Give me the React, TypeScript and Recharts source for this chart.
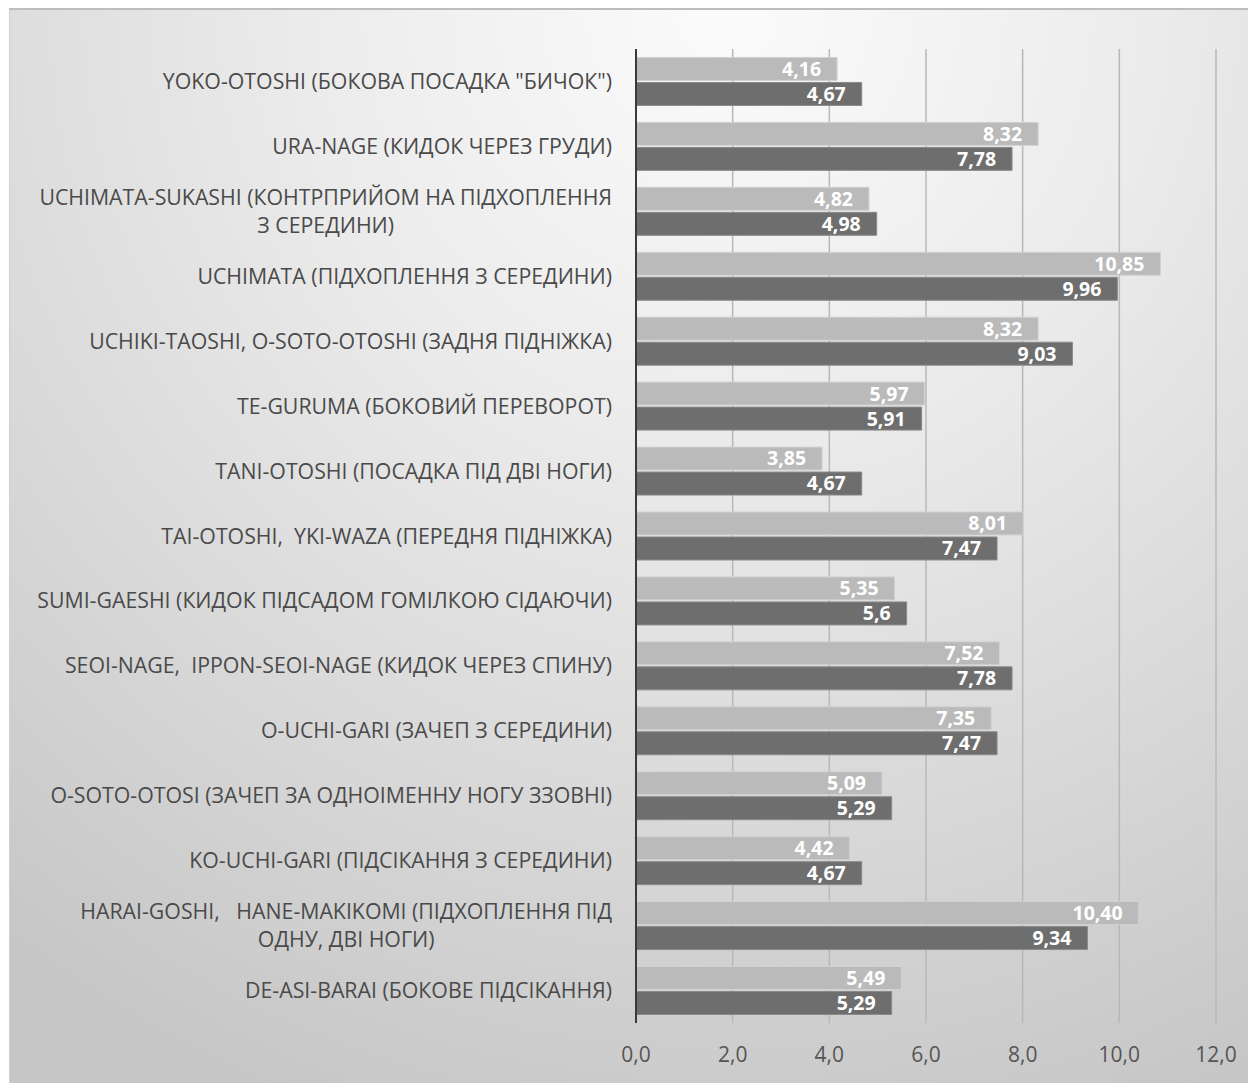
import { BarChart, Bar, XAxis, YAxis, CartesianGrid, LabelList } from "recharts";

const categories = [
  'YOKO-OTOSHI (БОКОВА ПОСАДКА "БИЧОК")',
  "URA-NAGE (КИДОК ЧЕРЕЗ ГРУДИ)",
  "UCHIMATA-SUKASHI (КОНТРПРИЙОМ НА ПІДХОПЛЕННЯ\nЗ СЕРЕДИНИ)",
  "UCHIMATA (ПІДХОПЛЕННЯ З СЕРЕДИНИ)",
  "UCHIKI-TAOSHI, O-SOTO-OTOSHI (ЗАДНЯ ПІДНІЖКА)",
  "TE-GURUMA (БОКОВИЙ ПЕРЕВОРОТ)",
  "TANI-OTOSHI (ПОСАДКА ПІД ДВІ НОГИ)",
  "TAI-OTOSHI,  YKI-WAZA (ПЕРЕДНЯ ПІДНІЖКА)",
  "SUMI-GAESHI (КИДОК ПІДСАДОМ ГОМІЛКОЮ СІДАЮЧИ)",
  "SEOI-NAGE,  IPPON-SEOI-NAGE (КИДОК ЧЕРЕЗ СПИНУ)",
  "O-UCHI-GARI (ЗАЧЕП З СЕРЕДИНИ)",
  "O-SOTO-OTOSI (ЗАЧЕП ЗА ОДНОІМЕННУ НОГУ ЗЗОВНІ)",
  "KO-UCHI-GARI (ПІДСІКАННЯ З СЕРЕДИНИ)",
  "HARAI-GOSHI,   HANE-MAKIKOMI (ПІДХОПЛЕННЯ ПІД\nОДНУ, ДВІ НОГИ)",
  "DE-ASI-BARAI (БОКОВЕ ПІДСІКАННЯ)",
];

// values as printed on the bars
const lightValues = ["4,16", "8,32", "4,82", "10,85", "8,32", "5,97", "3,85", "8,01", "5,35", "7,52", "7,35", "5,09", "4,42", "10,40", "5,49"];
const darkValues = ["4,67", "7,78", "4,98", "9,96", "9,03", "5,91", "4,67", "7,47", "5,6", "7,78", "7,47", "5,29", "4,67", "9,34", "5,29"];

const xTicks = [0, 2, 4, 6, 8, 10, 12];

const toNum = (s: string) => parseFloat(s.replace(",", "."));

const data = categories.map((name, i) => ({
  name,
  light: toNum(lightValues[i]),
  dark: toNum(darkValues[i]),
  lightLabel: lightValues[i],
  darkLabel: darkValues[i],
}));

const FONT = '"Open Sans", sans-serif';
const LABEL_SIZE = 21.3;

let ctx: CanvasRenderingContext2D | null = null;
const measure = (t: string) => {
  if (!ctx) ctx = document.createElement("canvas").getContext("2d");
  if (!ctx) return t.length * 10;
  ctx.font = `${LABEL_SIZE}px ${FONT}`;
  return ctx.measureText(t).width;
};

const CategoryTick = ({ x, y, payload }: any) => {
  const lines: string[] = String(payload.value).split("\n");
  const right = x - 22;
  const lineH = 28;
  const maxW = Math.max(...lines.map(measure));
  const cx = right - maxW / 2;
  const startY = y - ((lines.length - 1) * lineH) / 2;
  return (
    <g>
      {lines.map((l, i) => (
        <text
          key={i}
          x={lines.length > 1 ? cx : right}
          y={startY + i * lineH}
          dy={7.5}
          textAnchor={lines.length > 1 ? "middle" : "end"}
          fill="#4a4a4a"
          fontSize={LABEL_SIZE}
          fontFamily={FONT}
          style={{ whiteSpace: "pre" }}
        >
          {l}
        </text>
      ))}
    </g>
  );
};

const ValueTick = ({ x, y, payload }: any) => (
  <text
    x={x}
    y={y + 37}
    textAnchor="middle"
    fill="#555555"
    fontSize={21}
    fontFamily={FONT}
  >
    {payload.value.toFixed(1).replace(".", ",")}
  </text>
);

export default function App() {
  return (
    <div style={{ position: "absolute", left: 0, top: 0, width: 1248, height: 1083, background: "#fff" }}>
      <div
        style={{
          position: "absolute",
          left: 9,
          top: 8,
          width: 1239,
          height: 1075,
          borderTop: "2px solid #bdbdbd",
          borderLeft: "1px solid #d0d0d0",
          boxSizing: "border-box",
          background:
            "radial-gradient(ellipse 95% 110% at 58% 0%, #fbfbfb 0%, #ececec 35%, #d8d8d8 70%, #c6c6c6 100%)",
        }}
      />
      <div style={{ position: "absolute", left: 0, top: 0 }}>
        <BarChart
          width={1248}
          height={1083}
          data={data}
          layout="vertical"
          margin={{ top: 49, right: 32, bottom: 0, left: 0 }}
          barCategoryGap="13%"
          barGap={2}
        >
          <CartesianGrid horizontal={false} stroke="#b8b8b8" strokeWidth={1.5} />
          <XAxis
            type="number"
            domain={[0, 12]}
            ticks={xTicks}
            axisLine={false}
            tickLine={false}
            tickSize={0}
            height={60}
            tick={<ValueTick />}
          />
          <YAxis
            type="category"
            dataKey="name"
            width={636}
            axisLine={{ stroke: "#3a3a3a", strokeWidth: 2 }}
            tickLine={false}
            tickSize={0}
            interval={0}
            tick={<CategoryTick />}
          />
          <Bar dataKey="light" fill="#bababa" stroke="#d2d2d2" strokeWidth={1} isAnimationActive={false}>
            <LabelList
              dataKey="lightLabel"
              position="insideRight"
              offset={16}
              fill="#ffffff"
              fontSize={19.5}
              fontWeight="bold"
              fontFamily={FONT}
            />
          </Bar>
          <Bar dataKey="dark" fill="#6e6e6e" stroke="#8a8a8a" strokeWidth={1} isAnimationActive={false}>
            <LabelList
              dataKey="darkLabel"
              position="insideRight"
              offset={16}
              fill="#ffffff"
              fontSize={19.5}
              fontWeight="bold"
              fontFamily={FONT}
            />
          </Bar>
        </BarChart>
      </div>
    </div>
  );
}
